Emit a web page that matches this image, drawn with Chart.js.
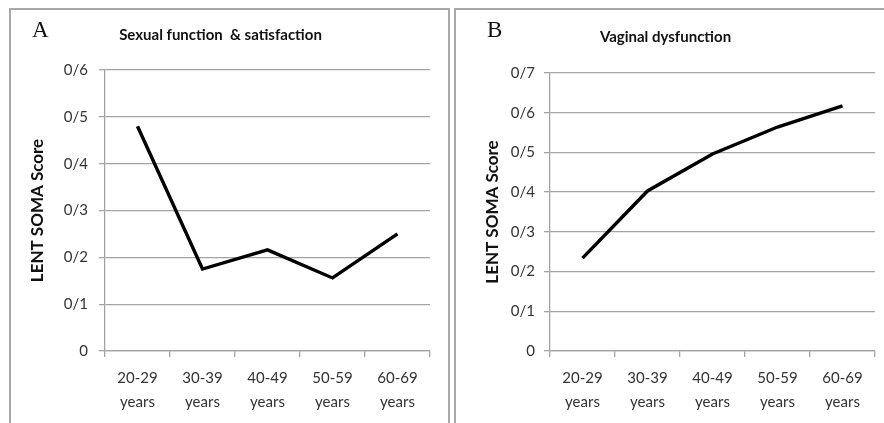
<!DOCTYPE html>
<html>
<head>
<meta charset="utf-8">
<script src="https://cdn.jsdelivr.net/npm/chart.js@4"></script>
<style>
  body { margin: 0; width: 884px; height: 423px; overflow: hidden; background: #fff; position: relative; }
  .panel { position: absolute; top: 8px; height: 440px; border: 2px solid #a8a8a8; }
  .letter { position: absolute; font-family: "Liberation Serif", "DejaVu Serif", serif; font-size: 23px; line-height: 1; color: #111; }
  canvas { position: absolute; left: 0; top: 0; }
</style>
</head>
<body>
<div class="panel" style="left:9px; width:437px;">
  <canvas id="chartA" width="437" height="413"></canvas>
  <div class="letter" style="left:21px; top:8px;">A</div>
</div>
<div class="panel" style="left:454px; width:440px;">
  <canvas id="chartB" width="428" height="413"></canvas>
  <div class="letter" style="left:31px; top:8px;">B</div>
</div>
<script>
// categories
const ageGroups = [['20-29', 'years'], ['30-39', 'years'], ['40-49', 'years'], ['50-59', 'years'], ['60-69', 'years']];

// LENT SOMA scores
const sexualFunction = [0.48, 0.175, 0.216, 0.156, 0.25];
const vaginalDysfunction = [0.234, 0.403, 0.496, 0.564, 0.617];

const titleA = 'Sexual function  & satisfaction';
const titleB = 'Vaginal dysfunction';
const yTitle = 'LENT SOMA Score';

const fontFamily = 'Lato, "Open Sans", sans-serif';
const gridColor = '#a4a4a4';

// 0.3 -> "0/3" like in the original figure
function fmtTick(v) {
  const s = Number(v.toFixed(1)).toString();
  return s.replace('.', '/');
}

function makeChart(id, values, title, yMax, opts) {
  const ctx = document.getElementById(id).getContext('2d');
  return new Chart(ctx, {
    type: 'line',
    data: {
      labels: ageGroups,
      datasets: [{
        data: values,
        borderColor: '#000',
        borderWidth: 3.4,
        pointRadius: 0,
        tension: 0,
        fill: false
      }]
    },
    options: {
      responsive: false,
      devicePixelRatio: 1,
      animation: false,
      layout: { padding: { left: 0, right: opts.right, top: 0, bottom: 0 } },
      plugins: {
        legend: { display: false },
        tooltip: { enabled: false },
        title: {
          display: true,
          text: title,
          color: '#111',
          font: { family: fontFamily, size: 15, weight: 'bold', lineHeight: 1.2 },
          padding: { top: opts.titleTop, bottom: opts.titleBottom }
        }
      },
      scales: {
        x: {
          offset: true,
          grid: { offset: true, drawOnChartArea: false, drawTicks: true, tickLength: 6, color: gridColor, lineWidth: 1.3 },
          border: { color: gridColor, width: 1.3 },
          ticks: {
            color: '#333',
            padding: 9,
            maxRotation: 0,
            autoSkip: false,
            font: { family: fontFamily, size: 15, lineHeight: 1.6 }
          },
          afterFit: function (scale) { scale.height = 72; }
        },
        y: {
          min: 0,
          max: yMax,
          grid: { color: gridColor, lineWidth: 1.3, drawTicks: true, tickLength: 6 },
          border: { color: gridColor, width: 1.3 },
          ticks: {
            stepSize: 0.1,
            color: '#333',
            padding: opts.yPad,
            font: { family: fontFamily, size: 15 },
            callback: function (v) { return fmtTick(v); }
          },
          title: {
            display: true,
            text: yTitle,
            color: '#111',
            font: { family: fontFamily, size: 17, weight: 'bold', lineHeight: 1.2 },
            padding: { top: opts.yTitlePad, bottom: 0 }
          },
          afterFit: function (scale) { scale.width = 94; }
        }
      }
    }
  });
}

makeChart('chartA', sexualFunction, titleA, 0.6, { right: 18, titleTop: 16, titleBottom: 26, yPad: 11, yTitlePad: 16 });
makeChart('chartB', vaginalDysfunction, titleB, 0.7, { right: 9, titleTop: 18, titleBottom: 27, yPad: 9, yTitlePad: 26 });
</script>
</body>
</html>
